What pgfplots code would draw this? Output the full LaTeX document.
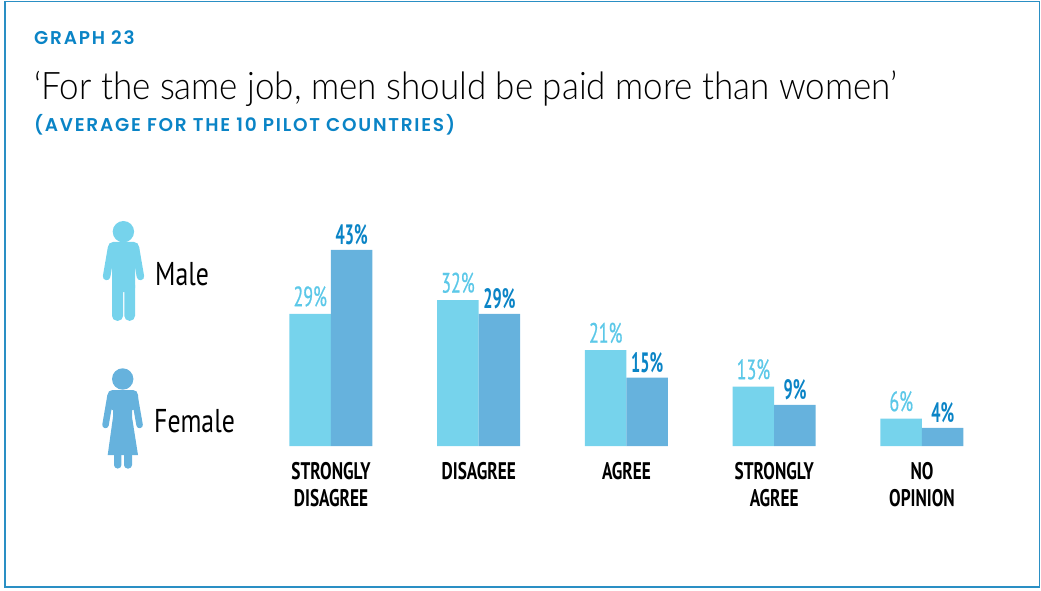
\documentclass[border=0pt]{standalone}
\usepackage{pgfplots}
\pgfplotsset{compat=1.18}
\usepackage{fontspec}
\setmainfont{Lato}
\newfontfamily\headf[LetterSpace=9.5]{Poppins SemiBold}
\newfontfamily\titlef[FakeStretch=0.92]{Lato Light}
\newfontfamily\narrowf[FakeStretch=0.78]{PT Sans}
\newfontfamily\narrowb[FakeStretch=0.72]{PT Sans Bold}
\newfontfamily\labf[FakeStretch=0.64,FakeBold=0.6]{PT Sans}
\newfontfamily\labb[FakeStretch=0.58]{PT Sans Bold}
\definecolor{malebar}{HTML}{76D3EC}
\definecolor{femalebar}{HTML}{66B2DD}
\definecolor{malelab}{HTML}{5CC8E8}
\definecolor{femalelab}{HTML}{0A84C6}
\definecolor{frame}{HTML}{2A8FC4}
\definecolor{head}{HTML}{0A84C6}
\begin{document}
\begin{tikzpicture}[x=1pt,y=1pt]
\useasboundingbox (0,0) rectangle (1041,590);
\begin{scope}[yshift=590pt,y=-1pt]
\draw[frame,line width=1.2pt] (5,1.5) rectangle (1039.5,587);
\node[anchor=base west,inner sep=0,text=head,font=\headf\fontsize{18.5}{20}\selectfont] at (34,44.5) {GRAPH 23};
\node[anchor=base west,inner sep=0,text=black,font=\titlef\fontsize{38}{42}\selectfont] at (34,100) {‘For the same job, men should be paid more than women’};
\node[anchor=base west,inner sep=0,text=head,font=\headf\fontsize{18.5}{20}\selectfont] at (34,131.5) {(AVERAGE FOR THE 10 PILOT COUNTRIES)};
\node[anchor=base west,inner sep=0,font=\narrowf\fontsize{33}{36}\selectfont] at (155,285) {Male};
\node[anchor=base west,inner sep=0,font=\narrowf\fontsize{33}{36}\selectfont] at (154,432) {Female};
% male icon
\fill[malebar] (123.4,231.7) circle (10.7);
\fill[malebar,rounded corners=5pt] (108,242) rectangle (139,262);
\fill[malebar,rounded corners=4pt] (112,245) rectangle (135,292);
\fill[malebar,rounded corners=5pt] (112,280) rectangle (123.1,320.8);
\fill[malebar,rounded corners=5pt] (124.3,280) rectangle (135,320.8);
\draw[malebar,line width=7.5pt,line cap=round] (111.5,248) -- (106.6,276.5);
\draw[malebar,line width=7.5pt,line cap=round] (135.5,248) -- (140.4,276.5);
% female icon
\fill[femalebar] (122.7,379) circle (10.7);
\fill[femalebar,rounded corners=5pt] (107.5,390) rectangle (138,410);
\fill[femalebar] (113,395) -- (132,395) -- (132,417) -- (138,455) -- (107.7,455) -- (113,417) -- cycle;
\fill[femalebar,rounded corners=3.5pt] (114,448) rectangle (121.4,468.5);
\fill[femalebar,rounded corners=3.5pt] (124,448) rectangle (132,468.5);
\draw[femalebar,line width=6.5pt,line cap=round] (110.5,396) -- (105.5,425);
\draw[femalebar,line width=6.5pt,line cap=round] (134.5,396) -- (139.6,425);
\end{scope}
\begin{axis}[
  at={(257.1pt,144pt)},anchor=south west,
  scale only axis,width=738.75pt,height=228pt,
  xmin=-0.5,xmax=4.5,ymin=0,ymax=50,
  axis x line=none,axis y line=none,
  clip=false,
  ybar,bar width=41.5pt,
  /pgf/number format/assume math mode=true,
  nodes near coords={\pgfmathprintnumber{\pgfplotspointmeta}\%},
  every node near coord/.append style={font=\labb\fontsize{28}{30}\selectfont,inner sep=0pt,yshift=5pt,anchor=south},
]
\addplot[fill=malebar,draw=none,bar shift=-20.75pt,every node near coord/.append style={text=malelab,font=\labf\fontsize{28}{30}\selectfont,yshift=2pt}] coordinates {(0,29) (1,32) (2,21) (3,13) (4,6)};
\addplot[fill=femalebar,draw=none,bar shift=20.75pt,every node near coord/.append style={text=femalelab}] coordinates {(0,43) (1,29) (2,15) (3,9) (4,4)};
\end{axis}
\begin{axis}[
  at={(257.1pt,144pt)},anchor=south west,
  scale only axis,width=738.75pt,height=228pt,
  xmin=-0.5,xmax=4.5,ymin=0,ymax=50,
  axis y line=none,axis x line*=bottom,
  axis line style={draw=none},
  xtick={0,1,2,3,4},
  major tick length=0pt,
  xticklabels={{STRONGLY\\DISAGREE},{DISAGREE},{AGREE},{STRONGLY\\AGREE},{NO\\OPINION}},
  xticklabel style={align=center,font=\narrowb\fontsize{24}{27}\selectfont,yshift=-13pt},
]
\addplot[draw=none,forget plot] coordinates {(0,0)};
\end{axis}
\end{tikzpicture}
\end{document}
